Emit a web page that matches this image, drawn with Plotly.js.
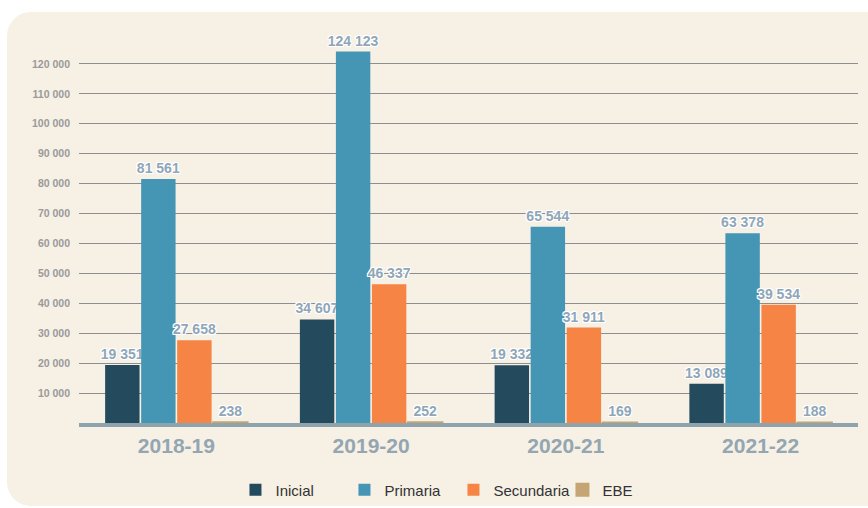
<!DOCTYPE html>
<html>
<head>
<meta charset="utf-8">
<script src="https://cdn.plot.ly/plotly-3.0.1.min.js"></script>
<style>
html,body{margin:0;padding:0;background:#ffffff;width:868px;height:508px;overflow:hidden;}
#bg{position:absolute;left:7px;top:12px;width:900px;height:494px;background:#F6F0E5;border-radius:24px;}
#chart{position:absolute;left:0;top:0;width:868px;height:508px;}
</style>
</head>
<body>
<div id="bg"></div>
<div id="chart"></div>
<script>
var categories = ["2018-19", "2019-20", "2020-21", "2021-22"];
var inicial = [19351, 34607, 19332, 13089];
var primaria = [81561, 124123, 65544, 63378];
var secundaria = [27658, 46337, 31911, 39534];
var ebe = [238, 252, 169, 188];
var seriesNames = ["Inicial", "Primaria", "Secundaria", "EBE"];
var seriesColors = ["#244A5E", "#4496B4", "#F58445", "#C4A573"];
var yTickVals = [10000,20000,30000,40000,50000,60000,70000,80000,90000,100000,110000,120000];

function fmt(v){ return String(v).replace(/\B(?=(\d{3})+(?!\d))/g, " "); }

var font = "Liberation Sans, Arial, Helvetica, sans-serif";
var allSeries = [inicial, primaria, secundaria, ebe];
var traces = allSeries.map(function(vals, i){
  var isSmall = (i === 3);
  return {
    type: "bar",
    name: seriesNames[i],
    x: categories,
    y: vals,
    text: vals.map(fmt),
    textposition: "outside",
    textangle: 0,
    constraintext: "none",
    cliponaxis: false,
    textfont: {family: font, size: 14, weight: "bold", color: "#8FA6B8",
      shadow: "1px 1px 0 #fff, -1px -1px 0 #fff, 1px -1px 0 #fff, -1px 1px 0 #fff, 0 1px 0 #fff, 0 -1px 0 #fff, 1px 0 0 #fff, -1px 0 0 #fff"},
    marker: {color: seriesColors[i], line: {color: seriesColors[i], width: isSmall ? 2 : 0}},
    hoverinfo: "x+y+name"
  };
});

var layout = {
  width: 868, height: 508,
  paper_bgcolor: "rgba(0,0,0,0)",
  plot_bgcolor: "rgba(0,0,0,0)",
  margin: {l: 79, r: 10, t: 34, b: 85, autoexpand: false},
  barmode: "group",
  bargap: 0.26,
  bargroupgap: 0.045,
  font: {family: font},
  xaxis: {
    type: "category",
    showgrid: false,
    showline: true, linecolor: "#8FA3AD", linewidth: 4,
    ticks: "",
    tickfont: {family: font, size: 21, weight: "bold", color: "#93A6B1"},
    ticklabelstandoff: 1,
    fixedrange: true
  },
  yaxis: {
    range: [0, 130000],
    tickvals: yTickVals,
    ticktext: yTickVals.map(fmt),
    showgrid: true, gridcolor: "#8E8E8E", gridwidth: 1,
    zeroline: false, showline: false,
    ticks: "",
    tickfont: {family: font, size: 10.5, weight: "bold", color: "#9A9A9A"},
    ticklabelstandoff: 8,
    fixedrange: true
  },
  showlegend: true,
  legend: {
    orientation: "h",
    x: 0.4807, xanchor: "center",
    y: -0.172, yanchor: "middle",
    entrywidth: 64,
    entrywidthmode: "pixels",
    font: {family: font, size: 15, color: "#333333"},
    bgcolor: "rgba(0,0,0,0)",
    itemclick: false, itemdoubleclick: false
  }
};

Plotly.newPlot("chart", traces, layout, {displayModeBar: false, staticPlot: true});
</script>
</body>
</html>
